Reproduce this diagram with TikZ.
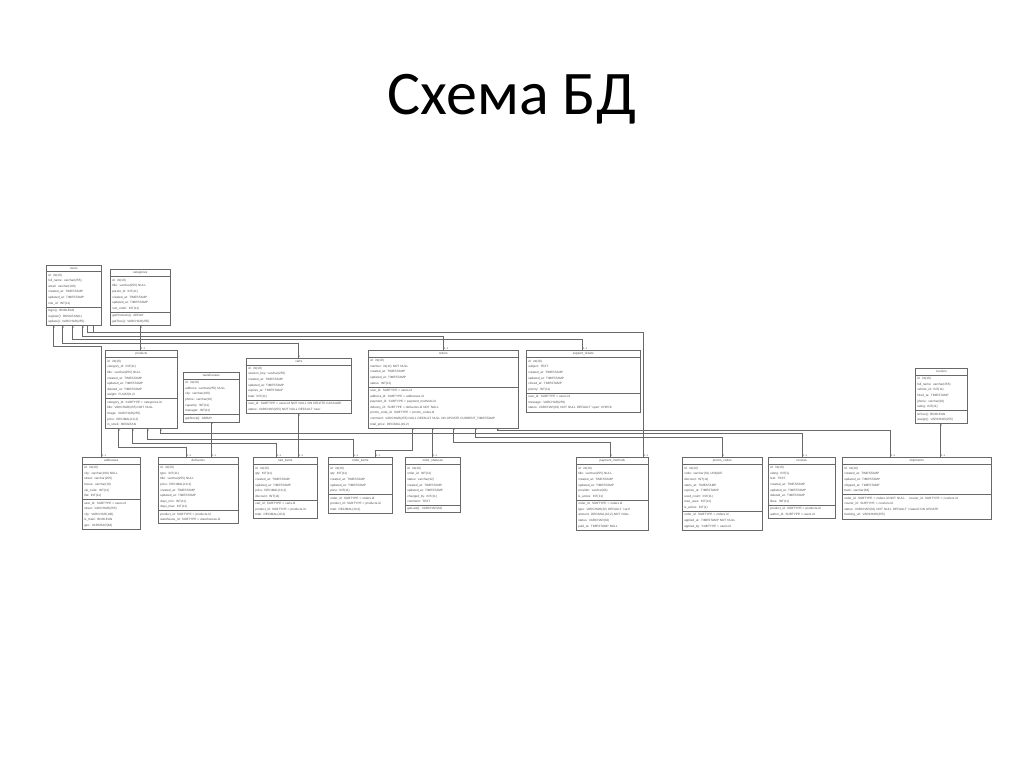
\documentclass[tikz,border=0pt]{standalone}
\usepackage{fontspec}
\setmainfont{Liberation Sans}
\newfontfamily\titlefont{Carlito}
\usepackage{tikz}
\usetikzlibrary{
    shapes.multipart,
    positioning,
    calc
}
\definecolor{boxline}{RGB}{105,105,105}
\definecolor{boxtext}{RGB}{80,80,80}
\tikzset{
    entity/.style={
        rectangle split,
        rectangle split parts=3,
        draw=boxline,
        fill=white,
        anchor=north west,
        align=left,
        text=boxtext,
        inner xsep=2pt,
        inner ysep=2pt,
        font=\fontsize{3.1}{5.6}\selectfont,
        line width=0.55pt
    },
    link/.style={
        draw=boxline,
        line width=0.55pt
    },
    multone/.style={
        anchor=north west,
        inner sep=0.6pt,
        text=boxtext,
        font=\fontsize{2.6}{3}\selectfont
    },
    multmany/.style={
        anchor=south west,
        inner sep=0.6pt,
        text=boxtext,
        font=\fontsize{2.6}{3}\selectfont
    }
}

\begin{document}
\begin{tikzpicture}[x=1pt, y=-1pt]
    \useasboundingbox[fill=white] (0,0) rectangle (1024,767);

    % Title
    \node[anchor=base, font=\titlefont\fontsize{62}{74}\selectfont] (title) at (512,115) {Схема БД};

    % Top row
    \node[entity, text width=51pt] (users) at (46,265) {\hfil users
        \nodepart{two} id: int(10)\\ full\_name: varchar(255)\\ email: varchar(100)\\ created\_at: TIMESTAMP\\ updated\_at: TIMESTAMP\\ role\_id: INT(11)
        \nodepart{three} login(): BOOLEAN\\ register(): BOOLEAN(1)\\ update(): VARCHAR(255)};
    \node[entity, text width=56pt] (categories) at (110,269) {\hfil categories
        \nodepart{two} id: int(10)\\ title: varchar(255) NULL\\ parent\_id: INT(11)\\ created\_at: TIMESTAMP\\ updated\_at: TIMESTAMP\\ sort\_order: INT(11)
        \nodepart{three} getProducts(): ARRAY\\ getTree(): VARCHAR(255)};

    % Middle row
    \node[entity, text width=68pt] (products) at (105,350) {\hfil products
        \nodepart{two} id: int(10)\\ category\_id: INT(11)\\ title: varchar(255) NULL\\ created\_at: TIMESTAMP\\ updated\_at: TIMESTAMP\\ deleted\_at: TIMESTAMP\\ weight: FLOAT(8,2)
        \nodepart{three} category\_id: SUBTYPE = categories.id\\ title: VARCHAR(255) NOT NULL\\ image: VARCHAR(255)\\ price: DECIMAL(10,2)\\ in\_stock: BOOLEAN};
    \node[entity, text width=52pt] (warehouses) at (183,372) {\hfil warehouses
        \nodepart{two} id: int(10)\\ address: varchar(255) NULL\\ city: varchar(100)\\ phone: varchar(20)\\ capacity: INT(11)\\ manager: INT(11)
        \nodepart{three} getStock(): ARRAY};
    \node[entity, text width=101pt] (carts) at (246,358) {\hfil carts
        \nodepart{two} id: int(10)\\ session\_key: varchar(255)\\ created\_at: TIMESTAMP\\ updated\_at: TIMESTAMP\\ expires\_at: TIMESTAMP\\ total: INT(11)
        \nodepart{three} user\_id: SUBTYPE = users.id NOT NULL ON DELETE CASCADE\\ status: VARCHAR(255) NOT NULL DEFAULT 'new'};
    \node[entity, text width=146pt] (orders) at (368,350) {\hfil orders
        \nodepart{two} id: int(10)\\ number: int(11) NOT NULL\\ created\_at: TIMESTAMP\\ updated\_at: TIMESTAMP\\ status: INT(11)
        \nodepart{three} user\_id: SUBTYPE = users.id\\ address\_id: SUBTYPE = addresses.id\\ payment\_id: SUBTYPE = payment\_methods.id\\ delivery\_id: SUBTYPE = deliveries.id NOT NULL\\ promo\_code\_id: SUBTYPE = promo\_codes.id\\ comment: VARCHAR(255) NULL DEFAULT NULL ON UPDATE CURRENT\_TIMESTAMP\\ total\_price: DECIMAL(10,2)};
    \node[entity, text width=110pt] (support) at (526,350) {\hfil support\_tickets
        \nodepart{two} id: int(10)\\ subject: TEXT\\ created\_at: TIMESTAMP\\ updated\_at: TIMESTAMP\\ closed\_at: TIMESTAMP\\ priority: INT(11)
        \nodepart{three} user\_id: SUBTYPE = users.id\\ message: VARCHAR(255)\\ status: VARCHAR(32) NOT NULL DEFAULT 'open' CHECK};
    \node[entity, text width=48pt] (couriers) at (915,368) {\hfil couriers
        \nodepart{two} id: int(10)\\ full\_name: varchar(255)\\ vehicle\_id: INT(11)\\ hired\_at: TIMESTAMP\\ phone: varchar(20)\\ rating: INT(11)
        \nodepart{three} isFree(): BOOLEAN\\ assign(): VARCHAR(255)};

    % Bottom row
    \node[entity, text width=54pt] (addresses) at (82,457) {\hfil addresses
        \nodepart{two} id: int(10)\\ city: varchar(100) NULL\\ street: varchar(255)\\ house: varchar(10)\\ zip\_code: INT(11)\\ flat: INT(11)
        \nodepart{three} user\_id: SUBTYPE = users.id\\ street: VARCHAR(255)\\ city: VARCHAR(100)\\ is\_main: BOOLEAN\\ geo: VARCHAR(64)};
    \node[entity, text width=76pt] (deliveries) at (158,457) {\hfil deliveries
        \nodepart{two} id: int(10)\\ type: INT(11)\\ title: varchar(255) NULL\\ price: DECIMAL(10,2)\\ created\_at: TIMESTAMP\\ updated\_at: TIMESTAMP\\ days\_min: INT(11)\\ days\_max: INT(11)
        \nodepart{three} product\_id: SUBTYPE = products.id\\ warehouse\_id: SUBTYPE = warehouses.id};
    \node[entity, text width=60pt] (cartitems) at (253,457) {\hfil cart\_items
        \nodepart{two} id: int(10)\\ qty: INT(11)\\ created\_at: TIMESTAMP\\ updated\_at: TIMESTAMP\\ price: DECIMAL(10,2)\\ discount: INT(11)
        \nodepart{three} cart\_id: SUBTYPE = carts.id\\ product\_id: SUBTYPE = products.id\\ total: DECIMAL(10,2)};
    \node[entity, text width=60pt] (orderitems) at (328,457) {\hfil order\_items
        \nodepart{two} id: int(10)\\ qty: INT(11)\\ created\_at: TIMESTAMP\\ updated\_at: TIMESTAMP\\ price: INT(11)
        \nodepart{three} order\_id: SUBTYPE = orders.id\\ product\_id: SUBTYPE = products.id\\ total: DECIMAL(10,2)};
    \node[entity, text width=51pt] (statuses) at (405,457) {\hfil order\_statuses
        \nodepart{two} id: int(10)\\ order\_id: INT(11)\\ status: varchar(32)\\ created\_at: TIMESTAMP\\ updated\_at: TIMESTAMP\\ changed\_by: INT(11)\\ comment: TEXT
        \nodepart{three} getLast(): VARCHAR(32)};
    \node[entity, text width=68pt] (payments) at (576,457) {\hfil payment\_methods
        \nodepart{two} id: int(10)\\ title: varchar(255) NULL\\ created\_at: TIMESTAMP\\ updated\_at: TIMESTAMP\\ provider: varchar(64)\\ is\_active: INT(11)
        \nodepart{three} order\_id: SUBTYPE = orders.id\\ type: VARCHAR(32) DEFAULT 'card'\\ amount: DECIMAL(10,2) NOT NULL\\ status: VARCHAR(32)\\ paid\_at: TIMESTAMP NULL};
    \node[entity, text width=76pt] (promocodes) at (682,457) {\hfil promo\_codes
        \nodepart{two} id: int(10)\\ code: varchar(32) UNIQUE\\ discount: INT(11)\\ starts\_at: TIMESTAMP\\ expires\_at: TIMESTAMP\\ used\_count: INT(11)\\ max\_uses: INT(11)\\ is\_active: INT(1)
        \nodepart{three} order\_id: SUBTYPE = orders.id\\ applied\_at: TIMESTAMP NOT NULL\\ applied\_by: SUBTYPE = users.id};
    \node[entity, text width=63pt] (reviews) at (768,457) {\hfil reviews
        \nodepart{two} id: int(10)\\ rating: INT(1)\\ text: TEXT\\ created\_at: TIMESTAMP\\ updated\_at: TIMESTAMP\\ deleted\_at: TIMESTAMP\\ likes: INT(11)
        \nodepart{three} product\_id: SUBTYPE = products.id\\ author\_id: SUBTYPE = users.id};
    \node[entity, text width=145pt] (shipments) at (842,457) {\hfil shipments
        \nodepart{two} id: int(10)\\ created\_at: TIMESTAMP\\ updated\_at: TIMESTAMP\\ shipped\_at: TIMESTAMP\\ track: varchar(64)
        \nodepart{three} order\_id: SUBTYPE = orders.id NOT NULL \quad courier\_id: SUBTYPE = couriers.id\\ courier\_id: SUBTYPE = couriers.id\\ status: VARCHAR(32) NOT NULL DEFAULT 'created' ON UPDATE\\ tracking\_url: VARCHAR(255)};

    % Links from users
    \draw[link] (users.south -| 53,0) -- node[pos=0, multone]{1} (53,346)
        -| node[pos=1, multmany]{0..n} (addresses.north -| 101,0);
    \draw[link] (users.south -| 62,0) -- node[pos=0, multone]{1} (62,343)
        -| node[pos=1, multmany]{1} (carts.north -| 298,0);
    \draw[link] (users.south -| 72,0) -- node[pos=0, multone]{1} (72,339)
        -| node[pos=1, multmany]{0..n} (support.north -| 582,0);
    \draw[link] (users.south -| 82,0) -- node[pos=0, multone]{1} (82,336)
        -| node[pos=1, multmany]{0..n} (orders.north -| 443,0);
    \draw[link] (users.south -| 87,0) -- (87,332)
        -| node[pos=1, multmany]{0..n} (payments.north -| 643,0);
    \draw[link] (users.south -| 93,0) |- (87,332);

    % Links from categories, warehouses, carts, couriers
    \draw[link] (categories.south -| 140,0) -- node[pos=0, multone]{1}
        node[pos=1, multmany]{0..n} (products.north -| 140,0);
    \draw[link] (warehouses.south -| 211,0) -- node[pos=0, multone]{1}
        node[pos=1, multmany]{0..n} (deliveries.north -| 211,0);
    \draw[link] (carts.south -| 298,0) -- node[pos=0, multone]{1}
        node[pos=1, multmany]{0..n} (cartitems.north -| 298,0);
    \draw[link] (couriers.south -| 940,0) -- node[pos=0, multone]{1}
        node[pos=1, multmany]{0..n} (shipments.north -| 940,0);

    % Links from products
    \foreach \sx/\by/\tx/\target in {118/447/186/deliveries, 132/443/276/cartitems,
        147/439/353/orderitems, 160/433/802/reviews} {
        \draw[link] (products.south -| \sx,0) -- node[pos=0, multone]{1} (\sx,\by)
            -| node[pos=1, multmany]{0..n} (\target.north -| \tx,0);
    }

    % Links from orders
    \draw[link] (orders.south -| 412,0) -- node[pos=0, multone]{1} (412,450)
        -| node[pos=1, multmany]{0..n} (orderitems.north -| 375,0);
    \draw[link] (orders.south -| 432,0) -- node[pos=0, multone]{1}
        node[pos=1, multmany]{0..n} (statuses.north -| 432,0);
    \foreach \sx/\by/\tx/\target/\m in {453/442/610/payments/1, 475/437/722/promocodes/1,
        497/430/890/shipments/0..n} {
        \draw[link] (orders.south -| \sx,0) -- node[pos=0, multone]{1} (\sx,\by)
            -| node[pos=1, multmany]{\m} (\target.north -| \tx,0);
    }
\end{tikzpicture}
\end{document}
